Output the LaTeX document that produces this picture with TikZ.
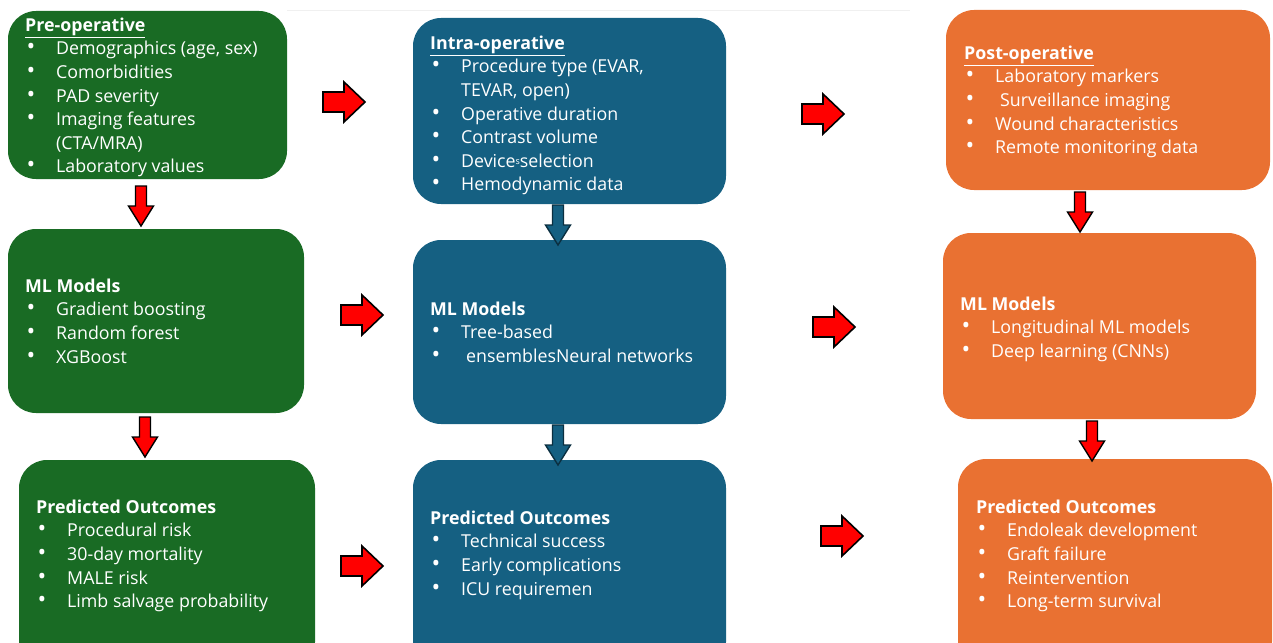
\documentclass[tikz,border=0pt]{standalone}
\usepackage{fontspec}
\setmainfont{Open Sans}
\usepackage{xcolor}
\usepackage{tikz}

\definecolor{preGreen}{HTML}{196B24}
\definecolor{intraBlue}{HTML}{156082}
\definecolor{postOrange}{HTML}{E97132}
\definecolor{tealEdge}{HTML}{0B2F40}

\newcommand{\itm}[1]{\\\hspace*{1.5pt}\makebox[29.5pt][l]{\scalebox{1.3}{\textbullet}}#1}
\newcommand{\cnt}[1]{\\\hspace*{31pt}#1}
\newcommand{\ttl}[1]{\rule{0pt}{12.5pt}\textbf{\underline{#1}}}
\newcommand{\hdr}[1]{\rule{0pt}{12.5pt}\textbf{#1}}

\begin{document}
\begin{tikzpicture}[
      x=1pt, y=-1pt,
      box/.style={rectangle, rounded corners=28pt, inner sep=0pt},
      txt/.style={anchor=north west, inner sep=0pt, align=left, text=white, font=\fontsize{17.8}{23.6}\selectfont},
      harrow/.pic={\draw[line width=1.6pt, line join=miter, fill=red] (0,-10) -- (21,-10) -- (21,-20) -- (42,0) -- (21,20) -- (21,10) -- (0,10) -- cycle;},
      varrow/.pic={\draw[line width=1.4pt, line join=miter, pic actions] (-5.5,0) -- (-5.5,20) -- (-12.5,20) -- (0,40) -- (12.5,20) -- (5.5,20) -- (5.5,0) -- cycle;}
    ]
      \useasboundingbox (0,0) rectangle (1273,642);
      \draw[gray!12, line width=0.8pt] (287,10) -- (910,10);
      \node[box, fill=preGreen, minimum width=279, minimum height=168] (pre) at (147.5,95) {};
      \node[box, fill=preGreen, minimum width=296, minimum height=184] (preml) at (156,321) {};
      \node[box, fill=preGreen, minimum width=296, minimum height=210] (preout) at (167,565) {};
      \node[box, fill=intraBlue, minimum width=313, minimum height=186] (intra) at (569.5,111) {};
      \node[box, fill=intraBlue, minimum width=313, minimum height=184] (intraml) at (569.5,332) {};
      \node[box, fill=intraBlue, minimum width=313, minimum height=210] (intraout) at (569.5,565) {};
      \node[box, fill=postOrange, minimum width=324, minimum height=180] (post) at (1108,100) {};
      \node[box, fill=postOrange, minimum width=313, minimum height=186] (postml) at (1099.5,326) {};
      \node[box, fill=postOrange, minimum width=314, minimum height=211] (postout) at (1115,564.5) {};
      \node[txt] (pre-txt) at (25,17.5) {\ttl{Pre-operative}\itm{Demographics (age, sex)}\itm{Comorbidities}\itm{PAD severity}\itm{Imaging features}\cnt{(CTA/MRA)}\itm{Laboratory values}};
      \node[txt] (preml-txt) at (25,278.5) {\hdr{ML Models}\itm{Gradient boosting}\itm{Random forest}\itm{XGBoost}};
      \node[txt] (preout-txt) at (36,499.5) {\hdr{Predicted Outcomes}\itm{Procedural risk}\itm{30-day mortality}\itm{MALE risk}\itm{Limb salvage probability}};
      \node[txt] (intra-txt) at (430,35.5) {\ttl{Intra-operative}\itm{Procedure type (EVAR,}\cnt{TEVAR, open)}\itm{Operative duration}\itm{Contrast volume}\itm{Device{\fontsize{9}{9}\selectfont\raisebox{2.5pt}{s}}selection}\itm{Hemodynamic data}};
      \node[txt] (intraml-txt) at (430,301.5) {\hdr{ML Models}\itm{Tree-based}\itm{\hspace*{5pt}ensemblesNeural networks}};
      \node[txt] (intraout-txt) at (430,510.5) {\hdr{Predicted Outcomes}\itm{Technical success}\itm{Early complications}\itm{ICU requiremen}};
      \node[txt] (post-txt) at (964,45.5) {\ttl{Post-operative}\itm{Laboratory markers}\itm{\hspace*{5pt}Surveillance imaging}\itm{Wound characteristics}\itm{Remote monitoring data}};
      \node[txt] (postml-txt) at (960,296.5) {\hdr{ML Models}\itm{Longitudinal ML models}\itm{Deep learning (CNNs)}};
      \node[txt] (postout-txt) at (976,499.5) {\hdr{Predicted Outcomes}\itm{Endoleak development}\itm{Graft failure}\itm{Reintervention}\itm{Long-term survival}};
      \pic at (323,102) {harrow};
      \pic at (341,315) {harrow};
      \pic at (341,566) {harrow};
      \pic at (802,114) {harrow};
      \pic at (813,327) {harrow};
      \pic at (821,536) {harrow};
      \pic[fill=red, draw=black] at (141,186) {varrow};
      \pic[fill=red, draw=black] at (145,417) {varrow};
      \pic[fill=intraBlue, draw=tealEdge] at (558,205) {varrow};
      \pic[fill=intraBlue, draw=tealEdge] at (558,425) {varrow};
      \pic[fill=red, draw=black] at (1080,192) {varrow};
      \pic[fill=red, draw=black] at (1092,421) {varrow};
    \end{tikzpicture}
\end{document}
